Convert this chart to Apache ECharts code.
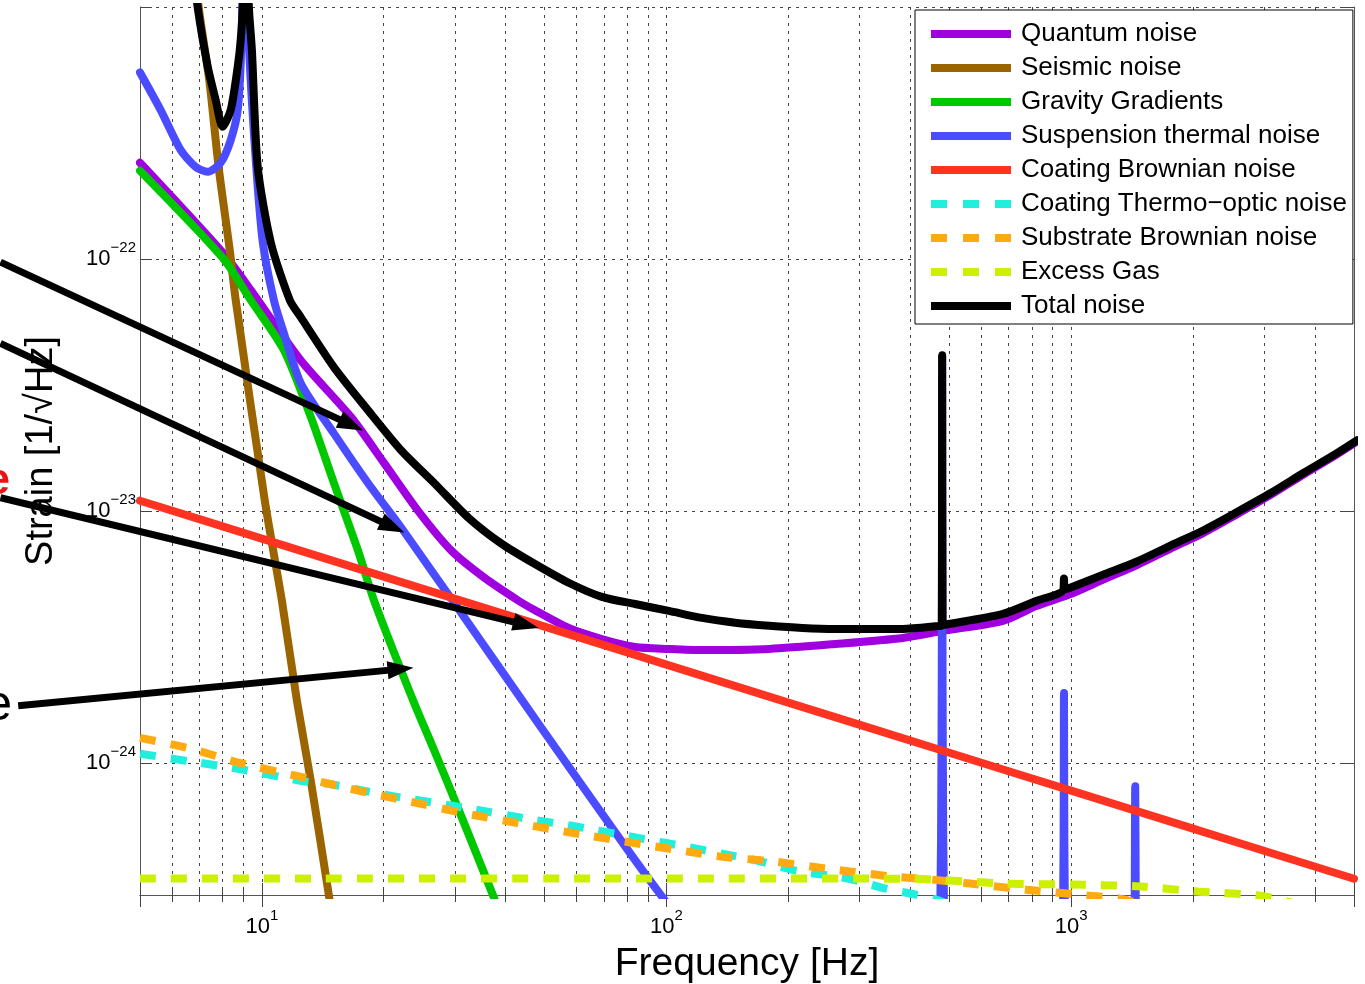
<!DOCTYPE html>
<html><head><meta charset="utf-8">
<script src="https://cdn.jsdelivr.net/npm/echarts@6/dist/echarts.min.js"></script>
<style>html,body{margin:0;padding:0;background:#fff}#c{width:1365px;height:984px}</style>
</head><body><div id="c"></div>
<script>
// ---------------- data (frequency [Hz], strain [1/sqrt(Hz)]) ----------------
const seriesNames = ['Quantum noise','Seismic noise','Gravity Gradients','Suspension thermal noise','Coating Brownian noise','Coating Thermo\u2212optic noise','Substrate Brownian noise','Excess Gas','Total noise'];

const quantumNoise = [[5,2.41e-22],[8.05,1.05e-22],[9.39,7.53e-23],[12.49,3.96e-23],[16.62,2.36e-23],[20.06,1.55e-23],[24.36,1.0e-23],[29.4,6.97e-24],[35.5,5.44e-24],[43.1,4.41e-24],[47.2,4.05e-24],[57.3,3.44e-24],[69.2,3.11e-24],[83.6,2.89e-24],[101.4,2.84e-24],[122.4,2.81e-24],[179.5,2.84e-24],[261.6,2.97e-24],[383.4,3.14e-24],[481.8,3.35e-24],[678.5,3.67e-24],[819,4.2e-24],[1000,4.7e-24],[1200,5.35e-24],[1449,6.1e-24],[1760,7.1e-24],[2124,8.2e-24],[2564,9.7e-24],[3113,1.16e-23],[3758,1.4e-23],[4537,1.68e-23],[5085,1.89e-23]];

const seismicNoise = [[6.9,1.3e-21],[6.98,1e-21],[7.43,5.0e-22],[7.82,2.32e-22],[8.33,1.09e-22],[8.62,6.87e-23],[10.17,1.1e-23],[11.21,4.41e-24],[12.21,1.77e-24],[13.22,8.47e-25],[14.66,2.96e-25],[15.0,2.3e-25]];

const gravityGradients = [[5,2.24e-22],[8.05,1.0e-22],[9.39,6.87e-23],[11.34,4.35e-23],[13.22,2.36e-23],[15.08,1.29e-23],[17.29,6.97e-24],[18.95,4.41e-24],[23.67,1.77e-24],[26.69,1.12e-24],[30.77,6.44e-25],[37.37,2.96e-25],[39,2.45e-25]];

const suspensionThermal = [[5,5.5e-22],[5.62,3.91e-22],[6.3,2.71e-22],[6.86,2.32e-22],[7.35,2.22e-22],[7.91,2.41e-22],[8.38,2.97e-22],[8.72,3.91e-22],[8.9,7e-22],[9.1,3e-21],[9.3,7e-22],[9.66,2.48e-22],[10.06,1.16e-22],[10.71,6.87e-23],[11.34,5.08e-23],[12.49,3.21e-23],[15.08,2.03e-23],[18.31,1.29e-23],[22.11,8.59e-24],[26.69,5.59e-24],[29.4,4.49e-24],[49.1,1.38e-24],[80.7,4.47e-25],[97.4,2.96e-25],[110,2.3e-25],
  [470,1e-26],[474,2e-25],[477,5e-25],[479,2.5e-24],[480,4.1e-23],[481,2.5e-24],[483,5e-25],[486,2e-25],[490,1e-26],
  [950,1e-26],[954,2e-25],[958,5e-25],[960,1.9e-24],[962,5e-25],[966,2e-25],[970,1e-26],
  [1430,1e-26],[1435,2e-25],[1440,8.1e-25],[1445,2e-25],[1450,1e-26]];

const coatingBrownian = [[5,1.1e-23],[10,7.78e-24],[20,5.5e-24],[50,3.48e-24],[100,2.46e-24],[200,1.74e-24],[500,1.1e-24],[1000,7.78e-25],[2000,5.5e-25],[5000,3.48e-25]];

const coatingThermoOptic = [[5,1.09e-24],[6.56,1.02e-24],[8.87,9.46e-25],[12.71,8.47e-25],[14.83,8.25e-25],[19.72,7.54e-25],[32.4,6.62e-25],[46.4,5.98e-25],[59.3,5.62e-25],[162.9,4.15e-25],[213,3.72e-25],[261.6,3.56e-25],[300,3.4e-25],[347.9,3.18e-25],[413,3.01e-25],[456,2.9e-25],[500,2.75e-25]];

const substrateBrownian = [[5,1.26e-24],[6.56,1.15e-24],[8.87,1.0e-24],[12.28,8.88e-25],[14.83,8.25e-25],[18.95,7.54e-25],[23.0,7.07e-25],[31.7,6.33e-25],[44.6,5.72e-25],[59.3,5.27e-25],[134.9,4.27e-25],[182.6,4.08e-25],[257.2,3.79e-25],[362.2,3.55e-25],[447.4,3.46e-25],[562,3.33e-25],[773.7,3.15e-25],[1089,2.99e-25],[1322,2.9e-25],[1500,2.75e-25]];

const excessGas = [[5,3.49e-25],[100,3.49e-25],[400,3.48e-25],[690,3.33e-25],[994,3.3e-25],[1449,3.25e-25],[2041,3.1e-25],[2906,2.99e-25],[3500,2.8e-25]];

const totalNoise = [[6.8,1.4e-21],[6.94,1e-21],[7.35,5.8e-22],[7.69,4.28e-22],[8.0,3.35e-22],[8.38,3.91e-22],[8.72,5.8e-22],[8.87,7.43e-22],[8.97,1e-21],[9.1,3e-21],[9.29,1e-21],[9.45,6.78e-22],[9.77,2.32e-22],[10.53,1.16e-22],[11.73,6.87e-23],[12.49,5.87e-23],[15.08,3.72e-23],[18.31,2.51e-23],[22.11,1.74e-23],[26.69,1.29e-23],[32.39,9.42e-24],[39.1,7.43e-24],[47.2,6.18e-24],[57.3,5.2e-24],[69.2,4.57e-24],[83.6,4.28e-24],[101.4,4.02e-24],[122.4,3.77e-24],[147.8,3.61e-24],[179.5,3.51e-24],[216.7,3.44e-24],[261.6,3.41e-24],[383.4,3.41e-24],[470,3.5e-24],[479,3.52e-24],[480,4.15e-23],[481,3.53e-24],[490,3.55e-24],[678.5,3.91e-24],[819,4.4e-24],[955,4.85e-24],[960,5.4e-24],[965,4.9e-24],[994,4.97e-24],[1200,5.6e-24],[1449,6.3e-24],[1760,7.3e-24],[2124,8.4e-24],[2564,9.9e-24],[3113,1.18e-23],[3758,1.42e-23],[4537,1.7e-23],[5085,1.91e-23]];

const seriesData = [quantumNoise, seismicNoise, gravityGradients, suspensionThermal, coatingBrownian, coatingThermoOptic, substrateBrownian, excessGas, totalNoise];

const xTickExponents = [1, 2, 3];
const yTickExponents = [-24, -23, -22];

// annotation arrows: [tail, tip] in data coordinates
const arrowTails = [[2.26,9.73e-23],[2.26,4.63e-23],[2.26,1.13e-23],[2.50,1.69e-24]];
const arrowTips  = [[17.8,2.09e-23],[22.5,8.22e-24],[48.3,3.44e-24],[23.7,2.39e-24]];

// ---------------- styles ----------------
const colors = ['#a000e0','#9a6400','#00c800','#4b4bff','#ff3322','#22eedd','#ffaa11','#ccf000','#000000'];
const dashed = [false,false,false,false,false,true,true,true,false];
const FONT = '"Liberation Sans", Arial, Helvetica, sans-serif';
const GRIDC = '#444';
const dashIcon = 'path://M0,0h16v8h-16z M32,0h16v8h-16z M64,0h16v8h-16z';

function labelFmt(list) {
  return function (v) {
    const l = Math.log10(v);
    const e = Math.round(l);
    if (Math.abs(l - e) > 1e-6 || list.indexOf(e) < 0) return '';
    return '{b|10}{s|' + (e < 0 ? '\u2212' + (-e) : String(e)) + '}';
  };
}
const rich = {
  b: { fontSize: 22, color: '#000', fontFamily: FONT },
  s: { fontSize: 15, color: '#000', fontFamily: FONT, padding: [0, 0, 22, 0] }
};
const gridLine = { show: true, lineStyle: { color: GRIDC, width: 1, type: [3, 5] } };

function mkX(pos, main) {
  return {
    type: 'log', logBase: 10, min: 5, max: 5000, position: pos,
    axisLine: { show: true, lineStyle: { color: '#555', width: 1 } },
    axisTick: { show: true, inside: true, length: 12, lineStyle: { color: '#444' } },
    minorTick: { show: true, splitNumber: 9, length: 7, lineStyle: { color: '#444' } },
    axisLabel: main ? { show: true, margin: 13, formatter: labelFmt(xTickExponents), rich: rich, showMinLabel: false, showMaxLabel: false } : { show: false },
    splitLine: main ? gridLine : { show: false },
    minorSplitLine: main ? gridLine : { show: false },
    name: main ? 'Frequency [Hz]' : '',
    nameLocation: 'middle', nameGap: 50,
    nameTextStyle: { fontSize: 39, color: '#000', fontFamily: FONT }
  };
}
function mkY(pos, main) {
  return {
    type: 'log', logBase: 10, min: 3e-25, max: 1e-21, position: pos,
    axisLine: { show: true, lineStyle: { color: '#555', width: 1 } },
    axisTick: { show: true, inside: true, length: 12, lineStyle: { color: '#444' } },
    minorTick: { show: true, splitNumber: 9, length: 7, lineStyle: { color: '#444' } },
    axisLabel: main ? { show: true, margin: 4, formatter: labelFmt(yTickExponents), rich: rich, showMinLabel: false, showMaxLabel: false } : { show: false },
    splitLine: main ? gridLine : { show: false },
    minorSplitLine: main ? gridLine : { show: false },
    name: main ? 'Strain [1/\u221AHz]' : '',
    nameLocation: 'middle', nameGap: 79,
    nameTextStyle: { fontSize: 38, color: '#000', fontFamily: FONT }
  };
}

const series = seriesNames.map((n, i) => ({
  name: n, type: 'line', data: seriesData[i], xAxisIndex: 0, yAxisIndex: 0,
  showSymbol: false, symbol: 'none', clip: true,
  smooth: 0.25,
  color: colors[i], itemStyle: { color: colors[i] },
  z: i === 8 ? 10 : (i === 4 ? 4 : 2),
  lineStyle: { color: colors[i], width: 8, type: dashed[i] ? [16, 15] : 'solid',
               cap: dashed[i] ? 'butt' : 'round', join: 'round' },
  emphasis: { disabled: true }, silent: true
}));

const chart = echarts.init(document.getElementById('c'), null, { renderer: 'canvas' });
chart.setOption({
  animation: false,
  backgroundColor: '#fff',
  textStyle: { fontFamily: FONT },
  grid: { left: 140, top: 7, right: 11, bottom: 89, containLabel: false, outerBoundsMode: 'none' },
  xAxis: [mkX('bottom', true), mkX('top', false)],
  yAxis: [mkY('left', true), mkY('right', false)],
  legend: {
    orient: 'vertical', left: 915, top: 10, padding: [11, 6, 5, 16],
    itemGap: 8, itemWidth: 80, itemHeight: 8, selectedMode: false,
    backgroundColor: '#fff', borderColor: '#000', borderWidth: 1, z: 20,
    textStyle: { fontSize: 26, lineHeight: 26, color: '#000', fontFamily: FONT, padding: [0, 0, 0, 5] },
    data: seriesNames.map((n, i) => ({ name: n, icon: dashed[i] ? dashIcon : 'rect' }))
  },
  series: series
});

// annotation arrows, positioned through the axes
const g = [];
for (let i = 0; i < arrowTips.length; i++) {
  const a = chart.convertToPixel({ xAxisIndex: 0, yAxisIndex: 0 }, arrowTails[i]);
  const b = chart.convertToPixel({ xAxisIndex: 0, yAxisIndex: 0 }, arrowTips[i]);
  const dx = b[0] - a[0], dy = b[1] - a[1], L = Math.sqrt(dx * dx + dy * dy);
  const ux = dx / L, uy = dy / L, hl = 26, hw = 9;
  const bx = b[0] - ux * hl, by = b[1] - uy * hl;
  g.push({ type: 'line', z: 100, silent: true, shape: { x1: a[0], y1: a[1], x2: bx + ux * 2, y2: by + uy * 2 },
           style: { stroke: '#000', lineWidth: 7 } });
  g.push({ type: 'polygon', z: 100, silent: true,
           shape: { points: [[b[0], b[1]], [bx - uy * hw, by + ux * hw], [bx + uy * hw, by - ux * hw]] },
           style: { fill: '#000' } });
}
g.push({ type: 'text', z: 100, silent: true, style: { text: 'e', x: 10, y: 482, align: 'right', verticalAlign: 'middle', font: 'bold 44px ' + FONT, fill: '#ee1111' } });
g.push({ type: 'text', z: 100, silent: true, style: { text: 'e', x: 12, y: 706, align: 'right', verticalAlign: 'middle', font: '50px ' + FONT, fill: '#000' } });
chart.setOption({ graphic: g });
</script>
</body></html>
